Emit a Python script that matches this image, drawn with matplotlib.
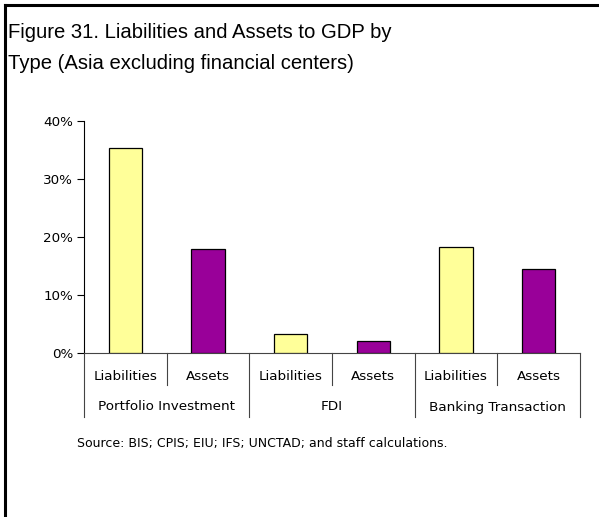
import matplotlib
matplotlib.use("Agg")
import matplotlib.pyplot as plt
from matplotlib.lines import Line2D

title = "Figure 31. Liabilities and Assets to GDP by\nType (Asia excluding financial centers)"
groups = ["Portfolio Investment", "FDI", "Banking Transaction"]
sub_labels = ["Liabilities", "Assets"]
liabilities = [0.353, 0.032, 0.182]
assets = [0.179, 0.021, 0.144]
yticks = [0.0, 0.1, 0.2, 0.3, 0.4]
ytick_labels = ["0%", "10%", "20%", "30%", "40%"]
source = "Source: BIS; CPIS; EIU; IFS; UNCTAD; and staff calculations."

W, H = 599, 517
fig = plt.figure(figsize=(W / 100, H / 100), dpi=100)

# frame lines (left and top)
fig.add_artist(Line2D([4.5 / W, 4.5 / W], [0, 1 - 5 / H], transform=fig.transFigure, color="black", lw=2.2))
fig.add_artist(Line2D([4.5 / W, 1], [1 - 5 / H, 1 - 5 / H], transform=fig.transFigure, color="black", lw=2.2))

fig.text(8 / W, 1 - 23 / H, title, ha="left", va="top", fontsize=14.6,
         family="Liberation Sans", linespacing=1.78)

ax = fig.add_axes([84 / W, 1 - 353 / H, (580 - 84) / W, (353 - 121) / H])
n = len(groups)
xs_l = [2 * i for i in range(n)]
xs_a = [2 * i + 1 for i in range(n)]
ax.bar(xs_l, liabilities, width=0.4, color="#FFFF99", edgecolor="black", lw=0.9, zorder=3)
ax.bar(xs_a, assets, width=0.4, color="#990099", edgecolor="black", lw=0.9, zorder=3)
ax.set_xlim(-0.5, 2 * n - 0.5)
ax.set_ylim(0, 0.4)
ax.set_yticks(yticks)
ax.set_yticklabels(ytick_labels, fontsize=9.7, family="DejaVu Sans")
ax.tick_params(axis="y", length=5, width=0.8, pad=3)
ax.set_xticks([])
for s in ["top", "right"]:
    ax.spines[s].set_visible(False)
ax.spines["left"].set_linewidth(0.8)
ax.spines["bottom"].set_linewidth(0.8)
ax.spines["bottom"].set_color("#444444")

# hierarchical category axis
tr = ax.get_xaxis_transform()
def py(pix):
    # pixel offset below axis to axes fraction
    return -pix / (353 - 121)

for i in range(n):
    ax.text(xs_l[i], py(24), sub_labels[0], transform=tr, ha="center", va="center", fontsize=9.7, family="DejaVu Sans")
    ax.text(xs_a[i], py(24), sub_labels[1], transform=tr, ha="center", va="center", fontsize=9.7, family="DejaVu Sans")
    ax.text(2 * i + 0.5, py(54), groups[i], transform=tr, ha="center", va="center", fontsize=9.7, family="DejaVu Sans")
    # short separator between subcategories
    ax.add_line(Line2D([2 * i + 0.5, 2 * i + 0.5], [0, py(32)], transform=tr, color="#444444", lw=0.8, clip_on=False))
for k in range(n + 1):
    xg = 2 * k - 0.5
    ax.add_line(Line2D([xg, xg], [0, py(64)], transform=tr, color="#444444", lw=0.8, clip_on=False))

fig.text(262 / W, 1 - 443 / H, source, ha="center", va="center", fontsize=9, family="DejaVu Sans")

fig.savefig("out.png", dpi=100)
